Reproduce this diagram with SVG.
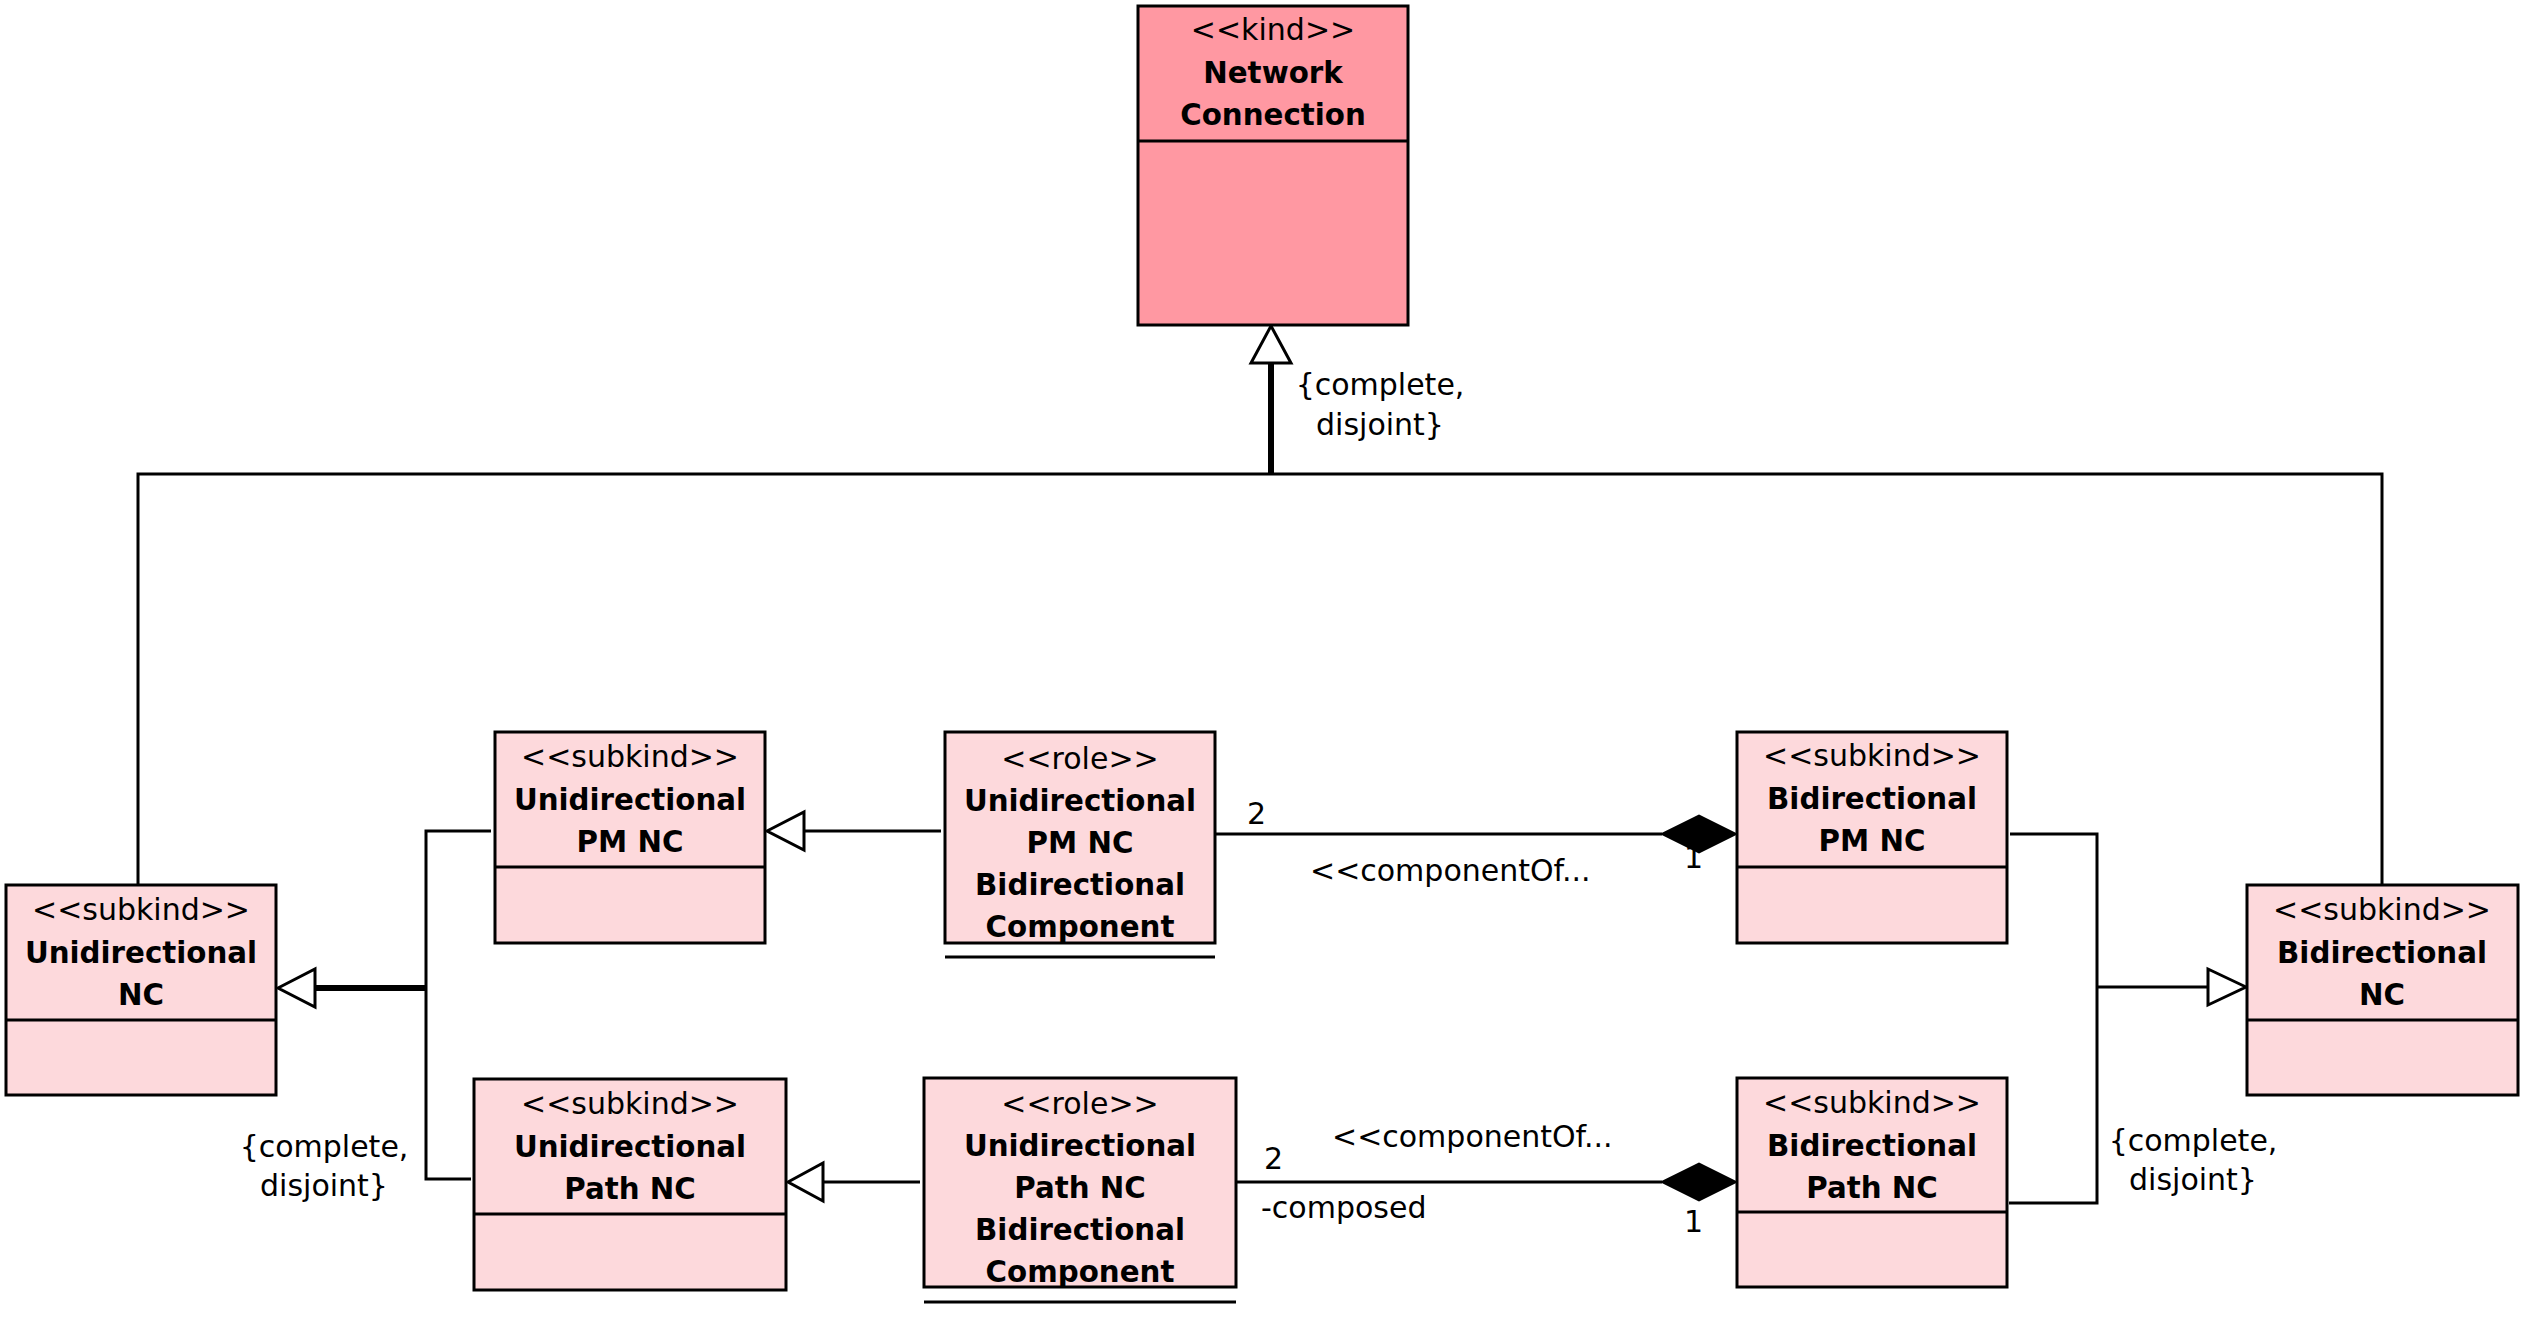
<svg xmlns="http://www.w3.org/2000/svg" width="2529" height="1335" viewBox="0 0 2529 1335">
<style>
text{font-family:"DejaVu Sans","Liberation Sans",sans-serif;font-size:30px;fill:#000}
.st{text-anchor:middle}
.nm{text-anchor:middle;font-weight:bold;font-size:29.3px}
.box{stroke:#000;stroke-width:3}
.kind{fill:#FF98A2}
.sub{fill:#FDD9DC}
.ln{fill:none;stroke:#000;stroke-width:3}
.thk{fill:none;stroke:#000;stroke-width:6}
.tri{fill:#fff;stroke:#000;stroke-width:3}
.dia{fill:#000;stroke:#000;stroke-width:2}
</style>
<rect width="2529" height="1335" fill="#fff"/>
<g id="connectors">
<path class="ln" d="M138 885 V474 H2382 V885"/>
<path class="thk" d="M1271 474 V362"/>
<polygon class="tri" points="1271,326 1251,363 1291,363"/>
<path class="thk" d="M426 988 H314"/>
<polygon class="tri" points="278,988 315,969 315,1007"/>
<path class="ln" d="M491 831 H426 V1179 H471"/>
<path class="ln" d="M2010 834 H2097 V1203 H2009"/>
<path class="ln" d="M2097 987 H2208"/>
<polygon class="tri" points="2246,987 2208,969 2208,1005"/>
<path class="ln" d="M941 831 H804"/>
<polygon class="tri" points="767,831 804,812 804,850"/>
<path class="ln" d="M920 1182 H823"/>
<polygon class="tri" points="788,1182 823,1163 823,1201"/>
<text x="1684" y="868">1</text>
<text x="1684" y="1232">1</text>
<path class="ln" d="M1215 834 H1662"/>
<polygon class="dia" points="1662,834 1699,815.5 1736,834 1699,852.5"/>
<path class="ln" d="M1237 1182 H1662"/>
<polygon class="dia" points="1662,1182 1699,1163.5 1736,1182 1699,1200.5"/>
<text x="1247" y="824">2</text>
<text x="1264" y="1169">2</text>
<text x="1310" y="881">&lt;&lt;componentOf...</text>
<text x="1332" y="1147">&lt;&lt;componentOf...</text>
<text x="1261" y="1218">-composed</text>
<text class="st" x="1380" y="395">{complete,</text>
<text class="st" x="1380" y="435">disjoint}</text>
<text class="st" x="324" y="1157">{complete,</text>
<text class="st" x="324" y="1196">disjoint}</text>
<text class="st" x="2193" y="1151">{complete,</text>
<text class="st" x="2193" y="1190">disjoint}</text>
</g>
<g id="n-network">
<rect class="box kind" x="1138" y="6" width="270" height="319"/>
<line class="ln" x1="1138" y1="141" x2="1408" y2="141"/>
<text class="st" x="1273" y="40">&lt;&lt;kind&gt;&gt;</text>
<text class="nm" x="1273" y="83">Network</text>
<text class="nm" x="1273" y="125">Connection</text>
</g>
<g id="n-unidirectional-nc">
<rect class="box sub" x="6" y="885" width="270" height="210"/>
<line class="ln" x1="6" y1="1020" x2="276" y2="1020"/>
<text class="st" x="141" y="920">&lt;&lt;subkind&gt;&gt;</text>
<text class="nm" x="141" y="963">Unidirectional</text>
<text class="nm" x="141" y="1005">NC</text>
</g>
<g id="n-unidirectional-pm-nc">
<rect class="box sub" x="495" y="732" width="270" height="211"/>
<line class="ln" x1="495" y1="867" x2="765" y2="867"/>
<text class="st" x="630" y="767">&lt;&lt;subkind&gt;&gt;</text>
<text class="nm" x="630" y="810">Unidirectional</text>
<text class="nm" x="630" y="852">PM NC</text>
</g>
<g id="n-unidirectional-path-nc">
<rect class="box sub" x="474" y="1079" width="312" height="211"/>
<line class="ln" x1="474" y1="1214" x2="786" y2="1214"/>
<text class="st" x="630" y="1114">&lt;&lt;subkind&gt;&gt;</text>
<text class="nm" x="630" y="1157">Unidirectional</text>
<text class="nm" x="630" y="1199">Path NC</text>
</g>
<g id="n-role-pm">
<rect class="box sub" x="945" y="732" width="270" height="211"/>
<line class="ln" x1="945" y1="957" x2="1215" y2="957"/>
<text class="st" x="1080" y="769">&lt;&lt;role&gt;&gt;</text>
<text class="nm" x="1080" y="811">Unidirectional</text>
<text class="nm" x="1080" y="853">PM NC</text>
<text class="nm" x="1080" y="895">Bidirectional</text>
<text class="nm" x="1080" y="937">Component</text>
</g>
<g id="n-role-path">
<rect class="box sub" x="924" y="1078" width="312" height="209"/>
<line class="ln" x1="924" y1="1302" x2="1236" y2="1302"/>
<text class="st" x="1080" y="1114">&lt;&lt;role&gt;&gt;</text>
<text class="nm" x="1080" y="1156">Unidirectional</text>
<text class="nm" x="1080" y="1198">Path NC</text>
<text class="nm" x="1080" y="1240">Bidirectional</text>
<text class="nm" x="1080" y="1282">Component</text>
</g>
<g id="n-bidirectional-pm-nc">
<rect class="box sub" x="1737" y="732" width="270" height="211"/>
<line class="ln" x1="1737" y1="867" x2="2007" y2="867"/>
<text class="st" x="1872" y="766">&lt;&lt;subkind&gt;&gt;</text>
<text class="nm" x="1872" y="809">Bidirectional</text>
<text class="nm" x="1872" y="851">PM NC</text>
</g>
<g id="n-bidirectional-path-nc">
<rect class="box sub" x="1737" y="1078" width="270" height="209"/>
<line class="ln" x1="1737" y1="1212" x2="2007" y2="1212"/>
<text class="st" x="1872" y="1113">&lt;&lt;subkind&gt;&gt;</text>
<text class="nm" x="1872" y="1156">Bidirectional</text>
<text class="nm" x="1872" y="1198">Path NC</text>
</g>
<g id="n-bidirectional-nc">
<rect class="box sub" x="2247" y="885" width="271" height="210"/>
<line class="ln" x1="2247" y1="1020" x2="2518" y2="1020"/>
<text class="st" x="2382" y="920">&lt;&lt;subkind&gt;&gt;</text>
<text class="nm" x="2382" y="963">Bidirectional</text>
<text class="nm" x="2382" y="1005">NC</text>
</g>
</svg>
